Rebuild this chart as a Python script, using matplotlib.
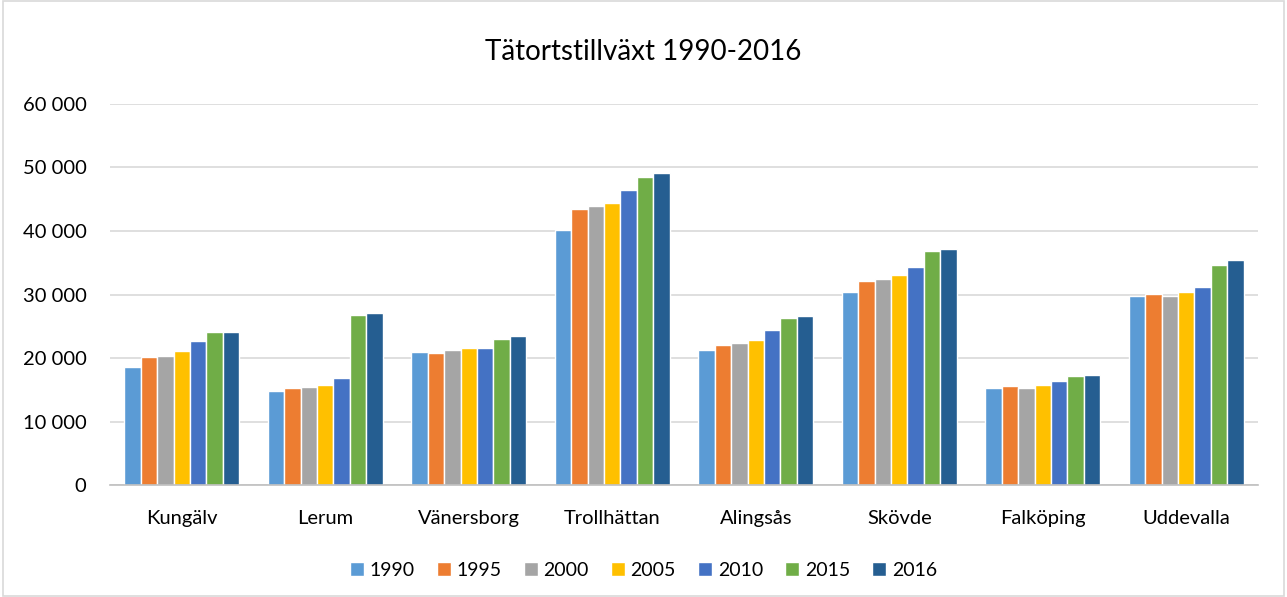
import matplotlib.pyplot as plt
import numpy as np
from matplotlib.patches import Rectangle
from matplotlib.ticker import FuncFormatter

plt.rcParams['font.family'] = ['Lato', 'DejaVu Sans']

towns = ['Kungälv', 'Lerum', 'Vänersborg', 'Trollhättan', 'Alingsås',
         'Skövde', 'Falköping', 'Uddevalla']
years = ['1990', '1995', '2000', '2005', '2010', '2015', '2016']

pop_1990 = [18630, 14740, 20930, 40080, 21250, 30430, 15320, 29700]
pop_1995 = [20150, 15320, 20830, 43440, 21980, 32060, 15630, 30060]
pop_2000 = [20360, 15480, 21300, 43970, 22350, 32420, 15320, 29700]
pop_2005 = [21090, 15740, 21560, 44440, 22870, 33050, 15740, 30430]
pop_2010 = [22720, 16790, 21620, 46380, 24450, 34370, 16320, 31160]
pop_2015 = [24030, 26810, 23030, 48530, 26290, 36780, 17100, 34680]
pop_2016 = [24130, 27070, 23450, 49060, 26650, 37150, 17370, 35470]

series = [pop_1990, pop_1995, pop_2000, pop_2005, pop_2010, pop_2015, pop_2016]
colors = ['#5B9BD5', '#ED7D31', '#A5A5A5', '#FFC000', '#4472C4', '#70AD47', '#255E91']

fig = plt.figure(figsize=(12.87, 5.97), dpi=100)
ax = fig.add_axes([0.0855, 0.1876, 0.892, 0.6382])

x = np.arange(len(towns))
slot = 0.8 / len(years)
for i, (vals, col) in enumerate(zip(series, colors)):
    offs = (i - (len(years) - 1) / 2) * slot
    ax.bar(x + offs, vals, width=slot, color=col, edgecolor='white',
           linewidth=1.0, label=years[i], zorder=3)

ax.set_xlim(-0.5, len(towns) - 0.5)
ax.set_ylim(0, 60000)
ax.set_yticks(range(0, 60001, 10000))
ax.yaxis.set_major_formatter(FuncFormatter(lambda v, p: f'{int(v):,}'.replace(',', ' ')))
ax.set_xticks(x)
ax.set_xticklabels(towns)
ax.tick_params(axis='both', length=0, labelsize=14.5, colors='#000000')
ax.tick_params(axis='y', pad=17)
ax.tick_params(axis='x', pad=18)
ax.grid(axis='y', color='#d9d9d9', linewidth=1.2, zorder=0)
for s in ['top', 'right', 'left']:
    ax.spines[s].set_visible(False)
ax.spines['bottom'].set_color('#bfbfbf')
ax.spines['bottom'].set_linewidth(1.2)
ax.spines['bottom'].set_zorder(4)

fig.text(0.5, 0.913, 'Tätortstillväxt 1990-2016', ha='center', va='center',
         fontsize=20, color='#000000')

fig.legend(loc='center', bbox_to_anchor=(0.5, 0.045), ncol=7, frameon=False,
           fontsize=14, handlelength=0.7, handleheight=0.7,
           handletextpad=0.3, columnspacing=1.15)

fig.patches.append(Rectangle((0.002, 0.002), 0.996, 0.996, transform=fig.transFigure,
                             fill=False, edgecolor='#d9d9d9', linewidth=1.2))

fig.savefig('out.png', dpi=100)
